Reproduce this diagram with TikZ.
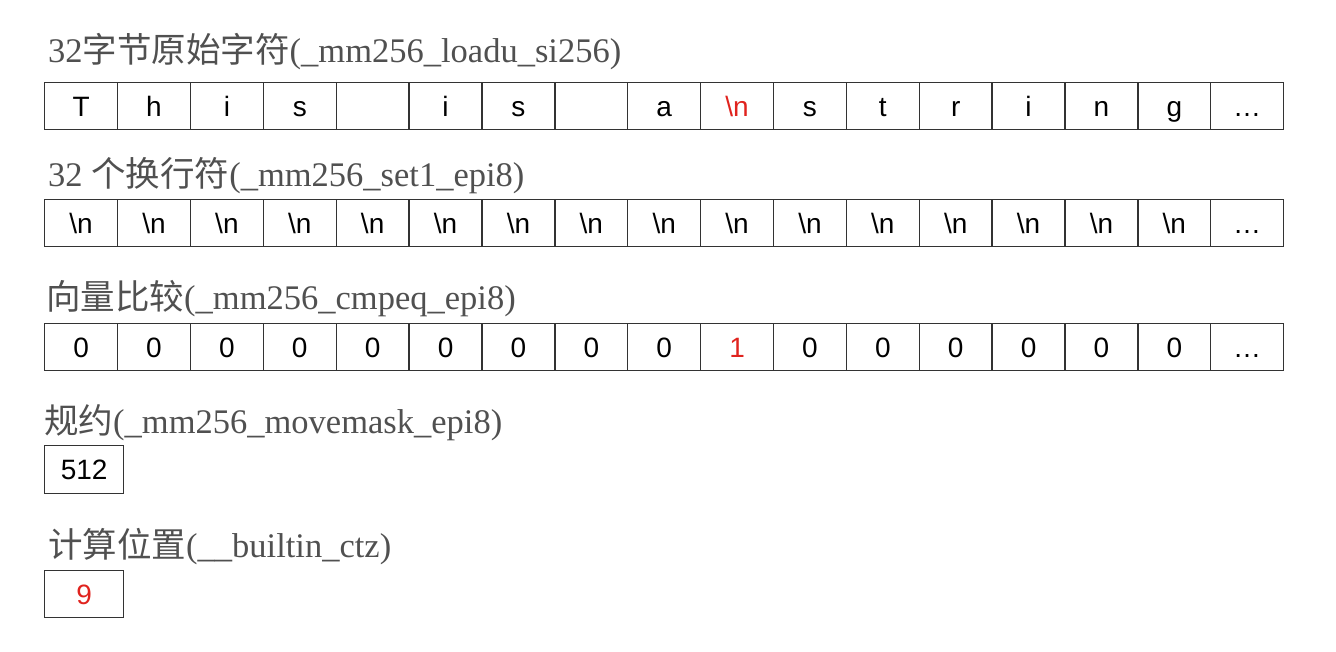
\documentclass[tikz,border=0pt]{standalone}
\usepackage{fontspec}
\setmainfont{Liberation Serif}
\newfontfamily\cjk{Noto Sans CJK SC}
\newfontfamily\cellfont{Liberation Sans}
\usetikzlibrary{positioning}

\definecolor{titlegray}{HTML}{505050}
\definecolor{hitred}{HTML}{E0231E}
\newcommand{\nl}{\textbackslash n}

\tikzset{
  cellbox/.style={draw=black!80, line width=1.4pt, minimum width=72.88pt, minimum height=47pt,
    inner sep=0pt, anchor=north west, text height=20pt, text depth=0pt,
    font=\cellfont\fontsize{28}{28}\selectfont},
  rowtitle/.style={anchor=base west, inner sep=0pt, text=titlegray,
    font=\fontsize{34.5}{34.5}\selectfont},
  hit/.style={text=hitred}
}

\begin{document}
\begin{tikzpicture}[x=1pt, y=1pt]
      \useasboundingbox (0, 0) rectangle (1336, -652);

      % loadu
      \node [rowtitle] (tload) at (48, -63) {32{\cjk 字节原始字符}(\_mm256\_loadu\_si256)};
      \foreach \c [count=\i from 0] in {T,h,i,s,{},i,s,{},a,{\textcolor{hitred}{\nl}},s,t,r,i,n,g,\ldots}
        \node [cellbox] (raw\i) at (44 + \i*72.88, -82) {\c};

      % set1
      \node [rowtitle] (tset) at (48, -187) {32 {\cjk 个换行符}(\_mm256\_set1\_epi8)};
      \foreach \i in {0,...,15}
        \node [cellbox] (nl\i) at (44 + \i*72.88, -199) {\nl};
      \node [cellbox] (nl16) at (44 + 16*72.88, -199) {\ldots};

      % cmpeq
      \node [rowtitle] (tcmp) at (46, -310) {{\cjk 向量比较}(\_mm256\_cmpeq\_epi8)};
      \foreach \c [count=\i from 0] in {0,0,0,0,0,0,0,0,0,{\textcolor{hitred}{1}},0,0,0,0,0,0,\ldots}
        \node [cellbox] (eq\i) at (44 + \i*72.88, -323) {\c};

      % movemask
      \node [rowtitle] (tmask) at (44, -433) {{\cjk 规约}(\_mm256\_movemask\_epi8)};
      \node [cellbox, minimum width=79pt, minimum height=48pt] (mask) at (44, -445) {512};

      % ctz
      \node [rowtitle] (tctz) at (48, -557) {{\cjk 计算位置}(\_\_builtin\_ctz)};
      \node [cellbox, hit, minimum width=79pt, minimum height=47pt] (pos) at (44, -570) {9};
    \end{tikzpicture}
\end{document}
